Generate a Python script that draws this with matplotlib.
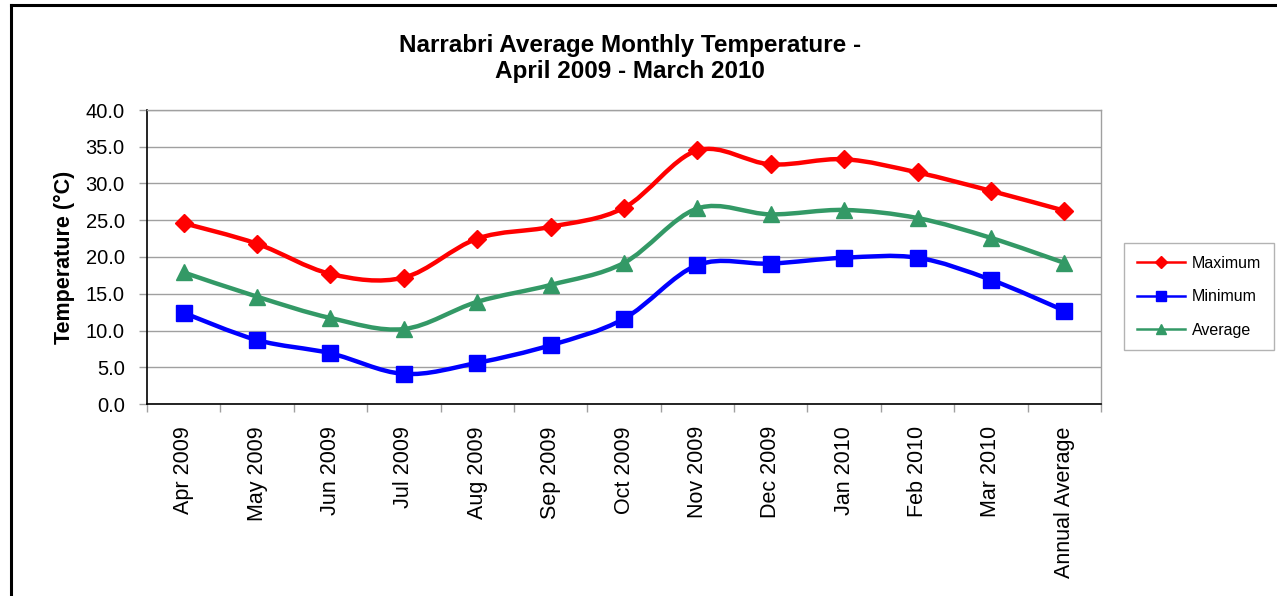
import matplotlib
matplotlib.use("Agg")
import matplotlib.pyplot as plt
import numpy as np
from matplotlib.path import Path
from matplotlib.patches import PathPatch
from matplotlib.lines import Line2D

plt.rcParams['font.family'] = ['Liberation Sans', 'DejaVu Sans']

months = ['Apr 2009', 'May 2009', 'Jun 2009', 'Jul 2009', 'Aug 2009', 'Sep 2009',
          'Oct 2009', 'Nov 2009', 'Dec 2009', 'Jan 2010', 'Feb 2010', 'Mar 2010',
          'Annual Average']
maximum = [24.6, 21.8, 17.7, 17.2, 22.5, 24.1, 26.7, 34.5, 32.6, 33.3, 31.5, 29.0, 26.3]
minimum = [12.4, 8.7, 6.9, 4.1, 5.6, 8.0, 11.6, 18.9, 19.1, 19.9, 19.9, 16.9, 12.7]
average = [17.9, 14.6, 11.7, 10.2, 13.9, 16.2, 19.2, 26.6, 25.8, 26.4, 25.3, 22.6, 19.2]


def smooth_path(xs, ys):
    # Catmull-Rom style bezier, similar to Excel "smoothed line"
    pts = np.column_stack([xs, ys]).astype(float)
    n = len(pts)
    verts = [pts[0]]
    codes = [Path.MOVETO]
    for i in range(n - 1):
        p0 = pts[max(i - 1, 0)]
        p1 = pts[i]
        p2 = pts[i + 1]
        p3 = pts[min(i + 2, n - 1)]
        c1 = p1 + (p2 - p0) / 6.0
        c2 = p2 - (p3 - p1) / 6.0
        verts += [c1, c2, p2]
        codes += [Path.CURVE4] * 3
    return Path(verts, codes)


fig = plt.figure(figsize=(12.77, 5.96), dpi=100)
W, H = 1277, 596
ax = fig.add_axes([147 / W, 1 - 404 / H, (1101 - 147) / W, (404 - 110) / H])

x = np.arange(len(months))
series = [
    ('Maximum', maximum, '#FF0000', 'D', 9, 6),
    ('Minimum', minimum, '#0000FF', 's', 11, 7),
    ('Average', average, '#339966', '^', 11, 7),
]
handles = []
for name, vals, col, mk, ms, lms in series:
    ax.add_patch(PathPatch(smooth_path(x, vals), facecolor='none', edgecolor=col,
                           lw=3.2, zorder=3, capstyle='round', joinstyle='round'))
    ax.plot(x, vals, ls='none', marker=mk, ms=ms, color=col, zorder=4)
    handles.append(Line2D([], [], color=col, lw=1.8, marker=mk, ms=lms, label=name))

ax.set_xlim(-0.5, len(months) - 0.5)
ax.set_ylim(0, 40)
ax.set_yticks(np.arange(0, 40.1, 5))
ax.set_yticklabels([f'{v:.1f}' for v in np.arange(0, 40.1, 5)])
ax.set_xticks(x)
ax.set_xticklabels(months, rotation=90)
ax.set_xticks(np.arange(-0.5, len(months)), minor=True)
ax.tick_params(axis='x', which='major', length=0, pad=16, labelsize=15.5)
ax.tick_params(axis='x', which='minor', length=6, color='#A0A0A0', width=1)
ax.tick_params(axis='y', length=6, color='#A0A0A0', width=1, pad=10, labelsize=14.5)
ax.yaxis.grid(True, color='#A0A0A0', lw=1)
ax.set_axisbelow(True)

for s in ['left', 'bottom']:
    ax.spines[s].set_color('black')
    ax.spines[s].set_linewidth(1.2)
for s in ['top', 'right']:
    ax.spines[s].set_color('#A0A0A0')
    ax.spines[s].set_linewidth(1)

ax.set_ylabel('Temperature (°C)', fontsize=15.5, fontweight='bold', labelpad=8)

fig.text(630 / W, 1 - 58.5 / H, 'Narrabri Average Monthly Temperature -\nApril 2009 - March 2010',
         ha='center', va='center', fontsize=17.5, fontweight='bold', linespacing=1.18)

leg = fig.legend(handles=handles, loc='upper left', bbox_to_anchor=(1124 / W, 1 - 243 / H),
                 bbox_transform=fig.transFigure, borderaxespad=0, fontsize=11.5,
                 frameon=True, fancybox=False, edgecolor='#A0A0A0', handlelength=3.0,
                 handletextpad=0.45, labelspacing=1.15, borderpad=0.8)
leg.get_frame().set_linewidth(1)

# chart-area border
fig.add_artist(Line2D([10.5 / W, 10.5 / W], [0, 1 - 5 / H], color='black', lw=2.2,
                      transform=fig.transFigure))
fig.add_artist(Line2D([10.5 / W, 1], [1 - 5 / H, 1 - 5 / H], color='black', lw=2.2,
                      transform=fig.transFigure))

fig.savefig('out.png', dpi=100)
